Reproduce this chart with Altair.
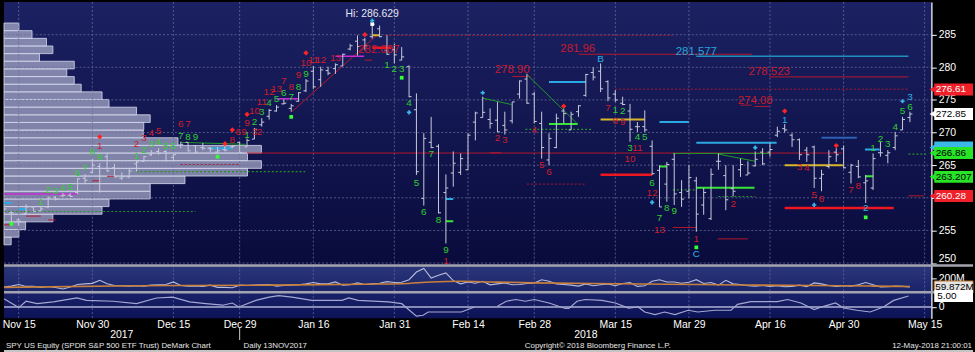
import altair as alt
import pandas as pd

FONT = "Liberation Sans"
W, HM, HV, HO = 933, 265, 27, 26

# ---------------- price bars (trading-day index 0 = 13-Nov-2017 ... 123 = 11-May-2018) ----------------
bar_high = [258.4, 257.9, 256.9, 259.0, 258.7, 258.6, 260.2, 260.2, 260.7, 260.7,
            263.0, 263.6, 266.0, 265.3, 266.8, 265.2, 263.9, 264.5, 265.7,
            266.4, 267.3, 267.6, 267.3, 266.8, 268.6, 268.5, 268.1, 268.4, 267.8,
            267.8, 268.1, 268.1, 268.6, 269.1, 270.7, 272.2, 273.6,
            274.2, 275.1, 274.4, 276.2, 278.2, 280.2, 280.1, 280.1, 280.6,
            282.1, 283.6, 284.9, 284.5, 286.8, 286.4, 284.9, 283.6, 283.1, 280.3,
            276.0, 269.9, 272.4, 268.2, 263.6, 267.1, 266.8, 269.9, 273.2, 275.5,
            273.7, 274.7, 273.2, 274.7, 278.0, 279.0, 276.2, 273.2, 269.9,
            272.9, 273.7, 273.2, 274.2, 279.0, 280.0, 280.6, 278.0, 276.5, 275.5,
            274.4, 271.6, 273.4, 268.8, 265.0, 265.5, 266.8, 262.7, 265.0,
            263.2, 261.5, 264.5, 266.8, 265.0, 265.0, 266.0, 265.6, 267.1, 267.6,
            268.4, 270.9, 271.3, 269.9, 269.1, 267.8, 268.0, 264.3, 267.3, 267.6,
            268.0, 265.2, 265.8, 263.5, 266.8, 268.6, 267.3, 270.1, 272.4, 273.2]
bar_low = [257.3, 256.3, 255.7, 257.5, 257.9, 257.9, 258.4, 259.6, 260.1, 260.1,
           260.6, 262.2, 263.7, 260.8, 264.0, 263.2, 262.7, 263.0, 264.0,
           265.5, 266.4, 266.6, 265.6, 265.5, 267.6, 267.1, 266.8, 267.3, 267.0,
           266.8, 267.1, 267.6, 266.8, 267.8, 269.0, 270.9, 272.0,
           273.2, 274.3, 273.2, 274.7, 276.2, 276.7, 277.0, 278.8, 279.0,
           280.2, 282.6, 281.8, 282.6, 284.4, 284.6, 281.9, 280.6, 281.1, 275.4,
           263.5, 258.8, 267.6, 257.6, 253.0, 261.7, 263.5, 264.3, 268.8, 272.3,
           270.6, 270.1, 269.7, 271.4, 275.2, 274.4, 271.4, 266.0, 265.0,
           267.6, 271.4, 270.4, 272.4, 275.5, 278.0, 276.2, 274.8, 274.7, 274.2,
           268.6, 270.1, 270.1, 263.5, 258.6, 259.4, 258.9, 258.6, 259.9,
           254.8, 257.4, 256.6, 264.3, 258.1, 260.2, 263.2, 263.5, 264.8, 265.0,
           266.3, 269.3, 270.0, 267.8, 265.8, 265.5, 261.5, 261.0, 264.5, 265.5,
           264.5, 262.2, 263.0, 259.2, 261.2, 266.3, 265.3, 267.3, 270.4, 271.6]
bar_open = [257.3, 257.7, 256.6, 257.6, 258.6, 258.0, 258.6, 260.1, 260.3, 260.4,
            260.8, 263.0, 263.9, 264.8, 266.3, 264.6, 263.0, 263.2, 265.2,
            265.6, 266.6, 267.1, 267.1, 266.2, 268.1, 268.5, 268.0, 267.7, 267.6,
            267.0, 267.4, 267.8, 268.5, 267.8, 269.0, 271.2, 272.5,
            273.3, 274.4, 273.7, 274.8, 276.4, 279.4, 278.1, 279.5, 279.8,
            280.2, 282.8, 284.0, 284.2, 284.7, 285.9, 282.6, 282.7, 281.1, 280.1,
            273.5, 259.9, 268.5, 267.9, 260.8, 263.8, 263.9, 264.3, 271.6, 272.3,
            272.0, 271.9, 271.1, 271.8, 275.9, 278.2, 275.9, 271.4, 265.8,
            267.7, 273.3, 270.4, 273.2, 275.7, 279.2, 279.4, 277.8, 275.9, 274.5,
            273.3, 270.9, 270.9, 267.9, 264.2, 262.1, 265.9, 260.8, 261.0,
            262.6, 258.9, 256.8, 265.6, 263.4, 261.4, 264.3, 263.5, 264.9, 267.0,
            267.0, 269.6, 270.6, 269.6, 268.9, 267.3, 267.8, 263.0, 264.8, 267.0,
            267.5, 263.9, 264.8, 262.3, 261.5, 266.9, 266.5, 267.7, 270.4, 272.3]
bar_close = [258.3, 257.7, 256.4, 258.6, 257.9, 258.3, 260.0, 259.8, 260.4, 260.2,
             262.9, 262.7, 265.0, 264.5, 264.1, 263.2, 263.2, 264.1, 265.5,
             266.3, 266.8, 266.8, 265.7, 266.6, 268.2, 267.2, 267.0, 267.6, 267.5,
             267.2, 267.3, 267.9, 266.9, 268.8, 270.5, 271.6, 273.4,
             273.9, 274.5, 274.1, 276.1, 277.9, 277.0, 279.6, 279.1, 280.4,
             282.0, 283.3, 283.2, 283.3, 286.6, 284.7, 282.0, 281.9, 281.6, 275.5,
             264.0, 269.1, 267.7, 257.7, 261.5, 265.3, 266.0, 269.6, 273.0, 273.1,
             271.4, 270.1, 270.4, 274.7, 277.9, 274.5, 271.7, 267.7, 269.1,
             272.2, 272.9, 272.8, 274.1, 278.9, 278.5, 276.7, 275.3, 275.0, 274.3,
             270.5, 270.9, 270.4, 263.7, 258.6, 265.1, 260.6, 259.8, 263.1,
             257.5, 260.8, 263.6, 265.6, 259.7, 261.0, 265.1, 263.8, 265.9, 265.2,
             267.4, 270.2, 270.4, 268.9, 266.6, 266.6, 263.0, 263.6, 266.3, 266.6,
             264.6, 265.0, 263.2, 262.6, 266.0, 266.9, 266.9, 269.5, 272.0, 272.85]
volume_m = [62, 75, 100, 70, 72, 55, 68, 52, 30, 60,
            100, 110, 118, 165, 110, 85, 80, 75, 80,
            75, 90, 95, 100, 140, 85, 75, 78, 70, 90,
            55, 55, 50, 90, 85, 90, 95, 100,
            75, 85, 90, 95, 110, 130, 110, 110, 140,
            90, 95, 125, 100, 110, 120, 145, 130, 135, 175,
            295, 350, 200, 245, 280, 160, 110, 140, 120, 150,
            95, 110, 125, 95, 100, 115, 125, 175, 150,
            110, 100, 90, 75, 110, 80, 95, 110, 80, 115,
            130, 70, 80, 150, 175, 140, 140, 120, 135,
            175, 115, 130, 90, 165, 110, 100, 80, 75, 85,
            70, 80, 65, 70, 90, 65, 125, 110, 85, 70,
            80, 75, 95, 130, 95, 60, 65, 75, 70, 60]
vol_ma_i = [0, 18, 36, 49, 54, 58, 62, 66, 72, 80, 90, 100, 110, 118, 123]
vol_ma_v = [55, 80, 90, 105, 112, 140, 150, 140, 125, 115, 105, 92, 85, 75, 68]

osc_i = [0, 2, 3, 4.5, 6.7, 9.9, 11.2, 14.8, 18, 20.7, 22.9, 25.2, 27.4, 29.7, 31, 31.9, 34.2, 36, 37.3, 39.1,
         41.8, 45.9, 46.8, 48.1, 52.2, 54, 56, 56.9, 57.6, 62.1, 63.9,
         67, 68.2, 69.5, 70.8, 72, 74, 76.2, 76.7, 77.8, 78.9, 81.2, 83, 84.8, 86.1, 87, 88.4, 89.7, 91.1, 92.9, 94.2,
         96.5, 98.7, 99.6, 101.4, 105, 106.4, 108.2, 110, 111.3, 112.9, 114, 115.8, 117.6, 119.4, 120.8, 122.8]
osc_v = [3.8, -0.3, 2.6, 1.5, 2.3, 4.1, 3.0, 2.6, 1.5, 4.1, 4.5, 2.3, 1.5, 0.8, 1.8, 0.0, 3.0, 4.5, 5.2, 4.5,
         3.0, 3.0, 4.1, 3.0, 2.3, 1.5, -4.2, -3.8, -2.3, -2.3, 0.0,
         0.3, 2.6, 3.4, 2.6, 3.4, 1.8, -0.7, -0.7, 2.6, 3.4, 3.0, 1.8, -0.5, 0.0, -2.3, -3.5, -2.3, -3.5, -1.5, -2.3,
         -1.5, -1.5, 1.2, 2.4, 2.4, 3.4, 1.8, -1.2, 0.3, 1.8, -0.5, -1.5, -2.3, 0.0, 3.0, 5.0]

# ---------------- axes ----------------
tick_idx = [2, 12, 23, 32, 42, 53, 63, 72, 83, 93, 104, 114, 125]
tick_lbl = ["Nov 15", "Nov 30", "Dec 15", "Dec 29", "Jan 16", "Jan 31", "Feb 14",
            "Feb 28", "Mar 15", "Mar 29", "Apr 16", "Apr 30", "May 15"]
price_ticks = [250, 255, 260, 265, 270, 275, 280, 285]
year_idx = [16, 79]
year_lbl = ["2017", "2018"]
year_sep_idx = [32]

# ---------------- volume-at-price profile ----------------
prof_edges = [252.79, 253.96, 255.13, 256.31, 257.48, 258.65, 259.82, 261.0, 262.17, 263.34,
              264.51, 265.69, 266.86, 268.03, 269.2, 270.38, 271.55, 272.72, 273.89, 275.07,
              276.24, 277.41, 278.58, 279.76, 280.93, 282.1, 283.27, 284.44, 285.62, 286.79]
prof_vol = [2.8, 5.8, 8.4, 19.0, 38.1, 40.8, 56.8, 56.8, 70.3, 94.6, 100, 94.6, 100, 67.6, 54.1,
            54.3, 56.8, 51.5, 40.8, 38.1, 30.0, 27.3, 24.4, 27.3, 13.8, 19.0, 16.5, 10.9, 5.8]

# ---------------- DeMark study lines ----------------
seg_kind = (["red_dot"] * 4 + ["red_thin"] * 17 + ["red_thick"] * 3 + ["cyan"] * 8 + ["cyan_thin"]
            + ["blue"] + ["green"] * 5 + ["green_thin"] * 5 + ["green_dot"] * 6 + ["yellow"] * 3 + ["magenta"] * 3)
seg_i1 = [51.7, 83.0, 71.0, 24.0,
          78.0, 103.9, 101.9, 69.0, 90.8, 96.9, 33.0, 39.1, 122.8, 3.0, 6.0, 0.0, 12.0, 14.0, 49.0, 66.0, 100.0,
          50.0, 81.0, 106.0,
          74.0, 89.0, 94.0, 116.9, 60.0, 0.0, 2.0, 28.0,
          94.0,
          111.0,
          74.0, 94.0, 60.0, 89.0, 116.9,
          90.8, 97.0, 24.0, 64.9, 71.0,
          70.8, 97.0, 0.0, 18.0, 122.8, 90.8,
          81.0, 106.0, 50.0,
          0.0, 37.0, 45.0]
seg_i2 = [90.8, 122.8, 79.0, 32.0,
          101.6, 122.8, 103.9, 71.5, 94.0, 101.0, 113.8, 50.6, 124.9, 5.0, 7.0, 1.0, 13.0, 15.0, 50.0, 67.5, 101.5,
          52.6, 88.0, 120.8,
          79.0, 93.0, 104.9, 118.9, 61.0, 1.0, 3.0, 31.0,
          122.8,
          115.8,
          77.9, 101.9, 61.0, 90.0, 118.0,
          104.0, 102.0, 32.8, 68.9, 77.8,
          79.9, 102.0, 26.0, 40.9, 125.2, 93.8,
          87.0, 113.9, 51.0,
          9.9, 40.0, 48.9]
seg_p1 = [284.9, 276.65, 262.1, 265.1,
          282.0, 278.53, 274.0, 278.6, 255.45, 253.7, 266.86, 273.2, 260.3, 257.2, 256.6, 255.85, 262.6, 263.3, 281.1, 266.9, 274.2,
          283.0, 263.55, 258.45,
          277.75, 271.6, 268.45, 267.4, 259.8, 259.2, 258.3, 267.6,
          281.69,
          269.2,
          271.3, 261.55, 256.4, 264.8, 263.3,
          266.8, 266.7, 268.5, 275.3, 278.9,
          270.5, 260.2, 257.9, 264.0, 266.7, 261.2,
          272.0, 265.0, 284.9,
          260.6, 275.2, 281.7]
seg_p2 = [284.9, 276.65, 262.1, 265.1,
          282.0, 278.53, 274.0, 278.6, 255.45, 253.7, 266.86, 284.9, 260.3, 257.2, 256.6, 255.85, 262.6, 263.3, 281.1, 266.9, 274.2,
          283.0, 263.55, 258.45,
          277.75, 271.6, 268.45, 267.4, 259.8, 259.2, 258.3, 267.6,
          281.69,
          269.2,
          271.3, 261.55, 256.4, 264.8, 263.3,
          266.8, 265.6, 268.2, 274.3, 271.4,
          270.5, 260.2, 257.9, 264.0, 266.7, 261.2,
          272.0, 265.0, 284.9,
          260.6, 275.2, 281.7]

# ---------------- TD Sequential counts ----------------
g_i = [5, 6, 7, 8, 9, 10, 11, 12, 13, 18, 19, 20, 21, 22, 23, 24, 25, 26,
       33, 34, 35, 36, 37, 38, 39, 40, 41, 52, 53, 54, 55, 56, 57, 58, 59, 60,
       83, 84, 85, 86, 87, 88, 89, 90, 91, 118, 119, 120, 121, 122, 123]
g_p = [259.4, 261.2, 261.05, 261.5, 261.7, 263.75, 264.5, 266.95, 266.3,
       266.45, 267.4, 268.3, 268.5, 268.0, 268.0, 269.5, 269.35, 269.35,
       269.6, 271.65, 273.1, 274.6, 275.1, 276.1, 275.4, 277.0, 279.0,
       280.3, 279.8, 279.8, 274.6, 262.3, 257.8, 266.65, 256.6, 252.0,
       273.5, 273.3, 267.7, 269.25, 269.25, 262.3, 256.9, 258.5, 257.9,
       267.7, 268.95, 268.2, 270.8, 273.3, 273.95]
g_t = list("123456789") * 5 + list("123456")
r_i = [13, 18, 19, 20, 21, 24, 25, 31, 31.8, 32.6, 34.0, 34.7, 33, 34, 35, 36, 37,
       38, 39, 40, 41, 42, 43, 45, 60,
       67, 68, 72, 73, 74, 82, 83, 84, 85, 86, 88, 89,
       94, 99, 108, 109, 110, 111, 115, 116]
r_p = [268.0, 268.2, 269.1, 270.0, 270.2, 271.25, 271.25, 268.9, 270.1, 270.1, 270.1, 270.1,
       271.4, 273.3, 274.7, 276.2, 276.6, 277.9, 277.0, 278.8, 280.7, 281.1, 281.1, 281.4, 250.35,
       269.1, 268.85, 270.4, 265.1, 263.9, 273.7, 271.8, 271.55, 266.0, 267.6, 260.7, 255.1,
       253.7, 259.1, 264.7, 264.5, 260.4, 259.8, 261.2, 261.8]
r_t = ["1", "2", "3", "4", "5", "6", "7", "8", "6", "9", "3", "2", "9", "10", "11", "12", "13",
       "7", "8", "9", "10", "11", "12", "13", "1",
       "2", "3", "4", "5", "6", "7", "8", "9", "10", "11", "12", "13",
       "1", "2", "3", "4", "5", "6", "7", "8"]
c_i = [81, 94, 106, 117, 123]
c_p = [281.2, 251.4, 271.9, 258.4, 275.5]
c_t = ["B", "C", "1", "2", "3"]

dia_i = [13, 30, 31, 33, 41, 49, 76, 106, 113]
dia_p = [269.35, 268.3, 270.4, 272.8, 282.2, 285.0, 274.05, 273.3, 268.0]
gdot_i = [1, 29, 39, 54, 94, 117]
gdot_p = [256.0, 266.3, 272.4, 278.4, 252.4, 257.0]
plus_i = [50, 55, 65, 88, 102, 110, 122]
plus_p = [287.15, 273.1, 276.1, 259.3, 267.7, 258.9, 274.8]
hi_i, hi_p, hi_txt = [50], [286.63], ["Hi: 286.629"]

lvl_red_i = [50.9, 77.9, 69.0, 103.9, 102.0]
lvl_red_p = [282.6, 282.75, 279.6, 279.3, 274.85]
lvl_red_t = ["282.007", "281.96", "278.90", "278.523", "274.08"]
lvl_cyan_i = [94.0]
lvl_cyan_p = [282.35]
lvl_cyan_t = ["281.577"]

# value flags on the price axis
flag_red_p, flag_red_t = [276.61, 260.28], ["276.61", "260.28"]
flag_cyan_p = [267.7]
flag_white_p, flag_white_t = [272.85], ["272.85"]
flag_green_p, flag_green_t = [266.86, 263.207], ["266.86", "263.207"]
vbox_v, vbox_t = [59.872], ["59.872M"]
obox_v, obox_t = [5.0], ["5.00"]

# ---------------- helpers ----------------
xs = alt.Scale(domain=[0, 125.9], nice=False, zero=False)
ys_main = alt.Scale(domain=[249.63, 290.0], nice=False, zero=False)
ys_vol = alt.Scale(domain=[-22, 398], nice=False, zero=False)
ys_osc = alt.Scale(domain=[-5.1, 6.7], nice=False, zero=False)


def yaxis(values, label_expr=None, low_flush=None):
    kw = dict(orient="right", values=values, title=None, grid=False, domainColor="#ffffff",
              domainWidth=1.5, tickColor="#ffffff", tickSize=5, tickWidth=1, labelColor="#ffffff",
              labelFont=FONT, labelFontSize=10.5, labelPadding=2)
    if label_expr:
        kw["labelExpr"] = label_expr
    if low_flush is not None:
        kw["labelBaseline"] = {"condition": {"test": f"datum.value <= {low_flush}", "value": "bottom"},
                               "value": "middle"}
    return alt.Axis(**kw)


AX_MAIN = yaxis(price_ticks, low_flush=250)
AX_VOL = yaxis([200], label_expr="datum.value + 'M'")
AX_OSC = yaxis([0])
xexpr = "".join(f"datum.value == {t} ? '{l}' : " for t, l in zip(tick_idx, tick_lbl)) + "''"
AX_X = alt.Axis(values=tick_idx, labelExpr=xexpr, labelFlush=True, grid=False, domain=False, ticks=False,
                labelColor="#ffffff", labelFont=FONT, labelFontSize=10.5, labelPadding=1, title=None,
                orient="bottom", labelOverlap=False)


def XM(f):
    return alt.X(f, type="quantitative", scale=xs, axis=None)


def XO(f):
    return alt.X(f, type="quantitative", scale=xs, axis=AX_X)


def YM(f):
    return alt.Y(f, type="quantitative", scale=ys_main, axis=AX_MAIN)


def YV(f):
    return alt.Y(f, type="quantitative", scale=ys_vol, axis=AX_VOL)


def YO(f):
    return alt.Y(f, type="quantitative", scale=ys_osc, axis=AX_OSC)


def grad(c1, c2):
    return alt.LinearGradient(gradient="linear", x1=0, x2=0, y1=0, y2=1,
                              stops=[alt.GradientStop(color=c1, offset=0), alt.GradientStop(color=c2, offset=1)])


one = pd.DataFrame({"a": [0]})
GRID = dict(color="#6a6f9c", strokeWidth=1, strokeDash=[2, 2], opacity=0.75)


def bg(c1, c2):
    return alt.Chart(one).mark_rect(fill=grad(c1, c2)).encode(
        x=alt.value(0), x2=alt.value("width"), y=alt.value(0), y2=alt.value("height"))


def vgrid(XF):
    return alt.Chart(pd.DataFrame({"t": tick_idx})).mark_rule(**GRID).encode(
        x=XF("t"), y=alt.value(0), y2=alt.value("height"))


def separator():
    return alt.Chart(one).mark_rule(color="#a4a4b0", strokeWidth=2.5).encode(
        x=alt.value(0), x2=alt.value(975), y=alt.value(0))


# ================= main price pane =================
bars = pd.DataFrame({"i": list(range(len(bar_high))), "h": bar_high, "l": bar_low,
                     "o": bar_open, "c": bar_close})
BAR = "#c9cbdc"

prof = pd.DataFrame({"lo": prof_edges[:-1], "hi": prof_edges[1:], "v": prof_vol, "z": 0})
profile = alt.Chart(prof).mark_rect(fill="#a0a3c3", fillOpacity=0.78, stroke="#d8dbee", strokeWidth=0.8).encode(
    x=alt.X("z:Q", scale=alt.Scale(domain=[0, 360.2], nice=False, zero=False), axis=None),
    x2="v", y=YM("lo"), y2="hi")

grid_h = alt.Chart(pd.DataFrame({"gp": price_ticks})).mark_rule(**GRID).encode(
    y=YM("gp"), x=alt.value(0), x2=alt.value("width"))

segs = pd.DataFrame({"k": seg_kind, "i1": seg_i1, "i2": seg_i2, "p1": seg_p1, "p2": seg_p2})
seg_style = {
    "red_dot": dict(color="#a8182c", strokeWidth=1, strokeDash=[2, 2]),
    "red_thin": dict(color="#b3182c", strokeWidth=1),
    "red_thick": dict(color="#ee1620", strokeWidth=2.5),
    "cyan": dict(color="#2ba9e2", strokeWidth=2),
    "cyan_thin": dict(color="#1d8fbd", strokeWidth=1.5),
    "blue": dict(color="#2d5fb5", strokeWidth=2),
    "green": dict(color="#35e635", strokeWidth=2),
    "green_thin": dict(color="#1f9a2a", strokeWidth=1),
    "green_dot": dict(color="#26902a", strokeWidth=1.2, strokeDash=[2, 2]),
    "yellow": dict(color="#d9b52a", strokeWidth=2),
    "magenta": dict(color="#c32dd2", strokeWidth=1.5),
}
seg_layers = []
for k, st in seg_style.items():
    seg_layers.append(alt.Chart(segs[segs.k == k]).mark_rule(clip=True, **st).encode(
        x=XM("i1"), x2="i2", y=YM("p1"), y2="p2"))

hl = alt.Chart(bars).mark_rule(color=BAR, strokeWidth=1, clip=True).encode(x=XM("i"), y=YM("l"), y2="h")
op = alt.Chart(bars).mark_rule(color=BAR, strokeWidth=1, clip=True, xOffset=-2.5).encode(
    x=XM("i"), x2="i", y=YM("o"))
cl = alt.Chart(bars).mark_rule(color=BAR, strokeWidth=1, clip=True, x2Offset=2.5).encode(
    x=XM("i"), x2="i", y=YM("c"))


def tlayer(i, p, t, color, size=10):
    return alt.Chart(pd.DataFrame({"i": i, "p": p, "t": t})).mark_text(
        font=FONT, fontSize=size, color=color, baseline="middle").encode(x=XM("i"), y=YM("p"), text="t")


txt_g = tlayer(g_i, g_p, g_t, "#2fcf2f")
txt_r = tlayer(r_i, r_p, r_t, "#cf1b2b")
txt_c = tlayer(c_i, c_p, c_t, "#2fb2e6")
txt_lvl_r = tlayer(lvl_red_i, lvl_red_p, lvl_red_t, "#c8192d", size=11.5)
txt_lvl_c = tlayer(lvl_cyan_i, lvl_cyan_p, lvl_cyan_t, "#2aa6d8", size=11.5)
txt_hi = alt.Chart(pd.DataFrame({"i": hi_i, "p": hi_p, "t": hi_txt})).mark_text(
    font=FONT, fontSize=10.5, color="#e4e6f2", baseline="bottom", dy=-5).encode(x=XM("i"), y=YM("p"), text="t")
hi_dot = alt.Chart(pd.DataFrame({"i": hi_i, "p": hi_p})).mark_square(size=14, color="#ffffff", opacity=1).encode(
    x=XM("i"), y=YM("p"))
dia = alt.Chart(pd.DataFrame({"i": dia_i, "p": dia_p})).mark_point(
    shape="diamond", filled=True, size=28, color="#ff2424", opacity=1).encode(x=XM("i"), y=YM("p"))
gdot = alt.Chart(pd.DataFrame({"i": gdot_i, "p": gdot_p})).mark_square(
    size=14, color="#33ff33", opacity=1).encode(x=XM("i"), y=YM("p"))
plus = alt.Chart(pd.DataFrame({"i": plus_i, "p": plus_p})).mark_point(
    shape="cross", filled=True, size=18, color="#39b8ee", opacity=1).encode(x=XM("i"), y=YM("p"))


def flag(prices, texts, fill, txtcol, Yf):
    d = pd.DataFrame({"p": prices, "t": texts})
    rect = alt.Chart(d).mark_rect(yOffset=-6, y2Offset=6, fill=fill).encode(
        x=alt.value(936), x2=alt.value(975), y=Yf("p"), y2="p")
    tri = alt.Chart(d).mark_point(shape="triangle-left", filled=True, size=40, opacity=1, color=fill).encode(
        x=alt.value(934), y=Yf("p"))
    txt = alt.Chart(d).mark_text(font=FONT, fontSize=10, align="left", baseline="middle", color=txtcol).encode(
        x=alt.value(937.5), y=Yf("p"), text="t")
    return [rect, tri, txt]


flags = (flag(flag_red_p, flag_red_t, "#f0202a", "#ffffff", YM)
         + flag(flag_cyan_p, [""], "#3ab8e8", "#000000", YM)
         + flag(flag_white_p, flag_white_t, "#ffffff", "#000000", YM)
         + flag(flag_green_p, flag_green_t, "#27e427", "#000000", YM))

rest = alt.layer(grid_h, vgrid(XM), *seg_layers, hl, op, cl, txt_g, txt_r, txt_c, txt_lvl_r, txt_lvl_c,
                 txt_hi, hi_dot, dia, gdot, plus, *flags)
main = alt.layer(bg("#1b2162", "#090b3c"), profile, rest).resolve_scale(x="independent").properties(
    width=W, height=HM)

# ================= volume pane =================
vdf = pd.DataFrame({"i": list(range(len(volume_m))), "v": volume_m})
madf = pd.DataFrame({"i": vol_ma_i, "v": vol_ma_v})
vol_line = alt.Chart(vdf).mark_line(color="#b9bcd8", strokeWidth=1.1).encode(x=XM("i"), y=YV("v"))
ma_line = alt.Chart(madf).mark_line(color="#c8803c", strokeWidth=1.6, interpolate="monotone").encode(
    x=XM("i"), y=YV("v"))
vb = pd.DataFrame({"v": vbox_v, "t": vbox_t})
vbox = alt.Chart(vb).mark_rect(yOffset=-6, y2Offset=6, fill="#e4e4e4", stroke="#c8803c", strokeWidth=1).encode(
    x=alt.value(936), x2=alt.value(975), y=YV("v"), y2="v")
vbox_txt = alt.Chart(vb).mark_text(font=FONT, fontSize=10, align="left", baseline="middle", color="#000000").encode(
    x=alt.value(937), y=YV("v"), text="t")
vol = alt.layer(bg("#2c3679", "#19236a"), vgrid(XM), vol_line, ma_line, separator(), vbox, vbox_txt).properties(
    width=W, height=HV)

# ================= oscillator pane =================
odf = pd.DataFrame({"i": osc_i, "v": osc_v})
odf["part"] = [0 if x < 65 else 1 for x in osc_i]
zero = alt.Chart(pd.DataFrame({"z": [0]})).mark_rule(color="#aeb2d4", strokeWidth=1.5).encode(
    y=YO("z"), x=alt.value(0), x2=alt.value("width"))
osc_line = alt.Chart(odf).mark_line(color="#a4a8d0", strokeWidth=1.2).encode(
    x=XO("i"), y=YO("v"), detail="part:N")
ob = pd.DataFrame({"v": obox_v, "t": obox_t})
obox = alt.Chart(ob).mark_rect(yOffset=-6, y2Offset=6, fill="#ffffff").encode(
    x=alt.value(936), x2=alt.value(975), y=YO("v"), y2="v")
obox_txt = alt.Chart(ob).mark_text(font=FONT, fontSize=10, align="left", baseline="middle", color="#000000").encode(
    x=alt.value(939), y=YO("v"), text="t")
years = alt.Chart(pd.DataFrame({"i": year_idx, "t": year_lbl})).mark_text(
    font=FONT, fontSize=10.5, color="#ffffff", baseline="middle").encode(x=XO("i"), y=alt.value(43), text="t")
ysep = alt.Chart(pd.DataFrame({"i": year_sep_idx})).mark_rule(color="#cfcfcf", strokeWidth=1).encode(
    x=XO("i"), y=alt.value(35), y2=alt.value(48))


def foot(text, x, align):
    return alt.Chart(one).mark_text(font=FONT, fontSize=8, color="#e6e6e6", align=align, baseline="middle",
                                    text=text).encode(x=alt.value(x), y=alt.value(54))


footer = [foot("SPY US Equity (SPDR S&P 500 ETF Trust) DeMark Chart", 2, "left"),
          foot("Daily 13NOV2017", 241, "left"),
          foot("Copyright\u00a9 2018 Bloomberg Finance L.P.", 524, "left"),
          foot("12-May-2018 21:00:01", 974, "right")]
bottom_rule = alt.Chart(one).mark_rule(color="#c4c4c4", strokeWidth=2).encode(
    x=alt.value(0), x2=alt.value(975), y=alt.value(59))

osc = alt.layer(bg("#1a226a", "#0c1256"), vgrid(XO), zero, osc_line, separator(), obox, obox_txt,
                years, ysep, *footer, bottom_rule).properties(width=W, height=HO)

chart = alt.vconcat(main, vol, osc, spacing=0, bounds="flush").configure(
    background="#000000", padding=0).configure_view(stroke=None)

chart.save("out.html", embed_options={"renderer": "svg", "actions": False})
